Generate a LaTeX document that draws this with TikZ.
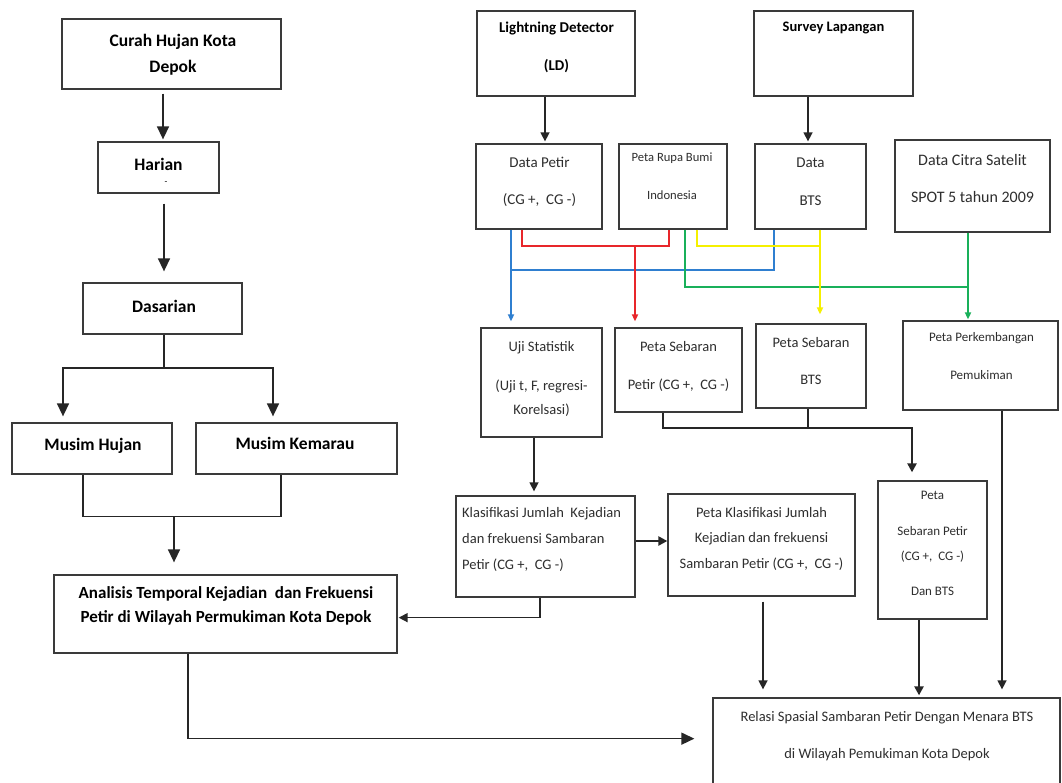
\documentclass[tikz,border=0pt]{standalone}
\usepackage{fontspec}
\setmainfont{Carlito}
\usetikzlibrary{arrows.meta,fit,calc}
\definecolor{boxc}{HTML}{3A3A3A}
\definecolor{txtc}{HTML}{2E2E2E}
\definecolor{lblue}{HTML}{2F7FD0}
\definecolor{lred}{HTML}{E8262A}
\definecolor{lyel}{HTML}{F5F000}
\definecolor{lgrn}{HTML}{19B05A}
\tikzset{
  box/.style={draw=boxc, line width=1.3pt, inner sep=0pt},
  ln/.style={draw=black!85, line width=1.5pt},
  arr/.style={ln, -{Triangle[width=9pt,length=9pt]}},
  arrL/.style={ln, -{Triangle[width=12pt,length=13pt]}},
  arrT/.style={draw=black!85, line width=2.3pt, -{Triangle[width=9pt,length=9pt]}},
  carr/.style={line width=2pt, -{Triangle[width=6pt,length=7pt]}},
  cln/.style={line width=2pt},
  bt/.style={inner sep=0pt, text=black, align=center, font=\bfseries\fontsize{17.5}{26}\selectfont},
  rt/.style={inner sep=0pt, text=txtc, align=center, font=\fontsize{14.5}{37}\selectfont},
}
\begin{document}
\begin{tikzpicture}[x=1pt,y=-1pt]
\useasboundingbox (0,0) rectangle (1062,782);
\fill[white] (0,0) rectangle (1062,782);

% ---------- boxes ----------
\node[box, fit={(62,19)(281,89)}] (curah) {};
\node[box, fit={(98,142)(219,193)}] (harian) {};
\node[box, fit={(83,283)(242,334)}] (dasarian) {};
\node[box, fit={(12,423)(172,474)}] (hujan) {};
\node[box, fit={(196,423)(397,474)}] (kemarau) {};
\node[box, fit={(54,575)(397,653)}] (analisis) {};
\node[box, fit={(477,11)(635,96)}] (ld) {};
\node[box, fit={(754,11)(913,96)}] (survey) {};
\node[box, fit={(476,144)(602,229)}] (petir) {};
\node[box, fit={(619,144)(727,229)}] (rupa) {};
\node[box, fit={(755,144)(866,229)}] (bts) {};
\node[box, fit={(895,140)(1050,232)}] (citra) {};
\node[box, fit={(481,328)(602,437)}] (uji) {};
\node[box, fit={(615,328)(742,412)}] (sebpetir) {};
\node[box, fit={(756,324)(866,408)}] (sebbts) {};
\node[box, fit={(903,321)(1058,410)}] (perk) {};
\node[box, fit={(456,496)(635,597)}] (klas) {};
\node[box, fit={(668,494)(855,596)}] (pklas) {};
\node[box, fit={(878,481)(987,619)}] (pdan) {};
\node[box, fit={(713,698)(1060,790)}] (relasi) {};

% ---------- texts ----------
\node[bt] (curahT) at (173,55) {Curah Hujan Kota\\Depok};
\node[bt] (harianT) at (158.5,164) {Harian};
\node[inner sep=0pt, font=\fontsize{9}{9}\selectfont] (harianD) at (166,183) {-};
\node[bt] (dasT) at (164,306) {Dasarian};
\node[bt] (hujT) at (93,446) {Musim Hujan};
\node[bt] (kemT) at (295,443) {Musim Kemarau};
\node[bt, font=\bfseries\fontsize{17}{24}\selectfont] (anT) at (226,606) {Analisis Temporal Kejadian\ \ dan Frekuensi\\Petir di Wilayah Permukiman Kota Depok};
\node[bt, font=\bfseries\fontsize{15}{38}\selectfont] (ldT) at (556.5,47) {Lightning Detector\\(LD)};
\node[bt, font=\bfseries\fontsize{14.5}{20}\selectfont] (svT) at (833.5,28) {Survey Lapangan};
\node[rt, font=\fontsize{15}{37}\selectfont] (petirT) at (539.5,181.5) {Data Petir\\(CG +,\ \ CG -)};
\node[rt, font=\fontsize{12.6}{38}\selectfont] (rupaT) at (672,176) {Peta Rupa Bumi\\Indonesia};
\node[rt, font=\fontsize{15}{38}\selectfont] (btsT) at (810.5,182) {Data\\BTS};
\node[rt, font=\fontsize{16}{37}\selectfont] (citraT) at (972.5,178.5) {Data Citra Satelit\\SPOT 5 tahun 2009};
\node[rt, font=\fontsize{14.5}{24}\selectfont] (ujiT) at (541.5,378.5) {Uji Statistik\\[15pt](Uji t, F, regresi-\\Korelsasi)};
\node[rt, font=\fontsize{14.5}{38}\selectfont] (sebpetirT) at (678.5,366) {Peta Sebaran\\Petir (CG +,\ \ CG -)};
\node[rt, font=\fontsize{14.5}{37}\selectfont] (sebbtsT) at (811,361.5) {Peta Sebaran\\BTS};
\node[rt, font=\fontsize{13}{38}\selectfont] (perkT) at (981.5,356) {Peta Perkembangan\\Pemukiman};
\node[rt, align=left, anchor=west, font=\fontsize{14.5}{26}\selectfont] (klasT) at (462,539) {Klasifikasi Jumlah\ \ Kejadian\\dan frekuensi Sambaran\\Petir (CG +,\ \ CG -)};
\node[rt, font=\fontsize{14.5}{25.5}\selectfont] (pklasT) at (761.5,538.5) {Peta Klasifikasi Jumlah\\Kejadian dan frekuensi\\Sambaran Petir (CG +,\ \ CG -)};
\node[rt, font=\fontsize{13}{25}\selectfont] (pdanT) at (932.5,543) {Peta\\[11pt]Sebaran Petir\\(CG +,\ \ CG -)\\[10pt]Dan BTS};
\node[rt, font=\fontsize{14.5}{37}\selectfont] (relasiT) at (887,736.5) {Relasi Spasial Sambaran Petir Dengan Menara BTS\\di Wilayah Pemukiman Kota Depok};

% ---------- left column connectors ----------
\draw[arrL, shorten <=4pt, shorten >=2pt] ([xshift=-8.5pt]curah.south) -- ([xshift=4.5pt]harian.north);
\draw[arrL, shorten <=10pt, shorten >=11pt] ([xshift=5.5pt]harian.south) -- ([xshift=1.5pt]dasarian.north);
\coordinate (dsplit) at (164,368);
\draw[ln] ([xshift=1.5pt]dasarian.south) -- (dsplit);
\draw[arrL, shorten >=6pt] (dsplit) -| ([xshift=-29pt]hujan.north);
\draw[arrL, shorten >=6pt] (dsplit) -| ([xshift=-23.5pt]kemarau.north);
\draw[ln] ([xshift=-9pt]hujan.south) -- ++(0,42) -| ([xshift=-15.5pt]kemarau.south);
\coordinate (jm) at (174,516);
\draw[arrL, shorten >=12pt] (jm) -- (jm |- analisis.north);
\draw[arrL, shorten >=18pt] ([xshift=-37.5pt]analisis.south) -- ++(0,85) coordinate (aj) -- (aj -| relasi.west);

% ---------- top right ----------
\draw[arr, shorten >=2pt] ([xshift=-11pt]ld.south) -- ([xshift=6pt]petir.north);
\draw[arr, shorten >=2pt] ([xshift=-25.5pt]survey.south) -- ([xshift=-2.5pt]bts.north);

% ---------- coloured connectors ----------
\coordinate (bl) at (511,270);
\draw[lblue, cln] ([xshift=-36.5pt]bts.south) |- (bl);
\draw[lblue, carr, shorten >=6pt] ([xshift=-28pt]petir.south) -- (bl) -- ([xshift=-30.5pt]uji.north);
\coordinate (rj) at (635,245);
\draw[lred, cln] ([xshift=-17pt]petir.south) -- ++(0,16) -| ([xshift=-4pt]rupa.south);
\draw[lred, carr, shorten >=6pt] (rj) -- ([xshift=-43.5pt]sebpetir.north);
\draw[lgrn, cln] ([xshift=12pt]rupa.south) -- ++(0,57) -| ([xshift=-4.5pt]citra.south);
\draw[lgrn, carr, shorten >=1pt] ([xshift=-4.5pt]citra.south) -- ([xshift=-12.5pt]perk.north);
\draw[lyel, cln] ([xshift=24pt]rupa.south) -- ++(0,16) -| ([xshift=9.5pt]bts.south);
\draw[lyel, carr, shorten >=9pt] ([xshift=9.5pt]bts.south) -- ([xshift=9pt]sebbts.north);

% ---------- middle / bottom right ----------
\draw[arr, shorten >=4pt] ([xshift=-7.5pt]uji.south) -- ([xshift=-11.5pt]klas.north);
\draw[arrT, shorten >=8pt] ([xshift=-15.5pt]sebpetir.south) -- ++(0,15) -| ([xshift=-20.5pt]pdan.north);
\draw[ln] ([xshift=-3pt]sebbts.south) -- ++(0,19);
\path ([yshift=5.5pt]klas.east) coordinate (ke);
\draw[arrT] (ke) -- (ke -| pklas.west);
\draw[arr, shorten >=1pt] ([xshift=-5.5pt]klas.south) -- ++(0,20) coordinate (kj) -- (kj -| analisis.east);
\draw[arr, shorten <=5pt, shorten >=8pt] ([xshift=1.5pt]pklas.south) -- ([xshift=-123.5pt]relasi.north);
\draw[arrT, shorten >=2pt] ([xshift=-13.5pt]pdan.south) -- ([xshift=32.5pt]relasi.north);
\draw[arr, shorten >=8pt] ([xshift=21.5pt]perk.south) -- ([xshift=115.5pt]relasi.north);
\end{tikzpicture}
\end{document}
